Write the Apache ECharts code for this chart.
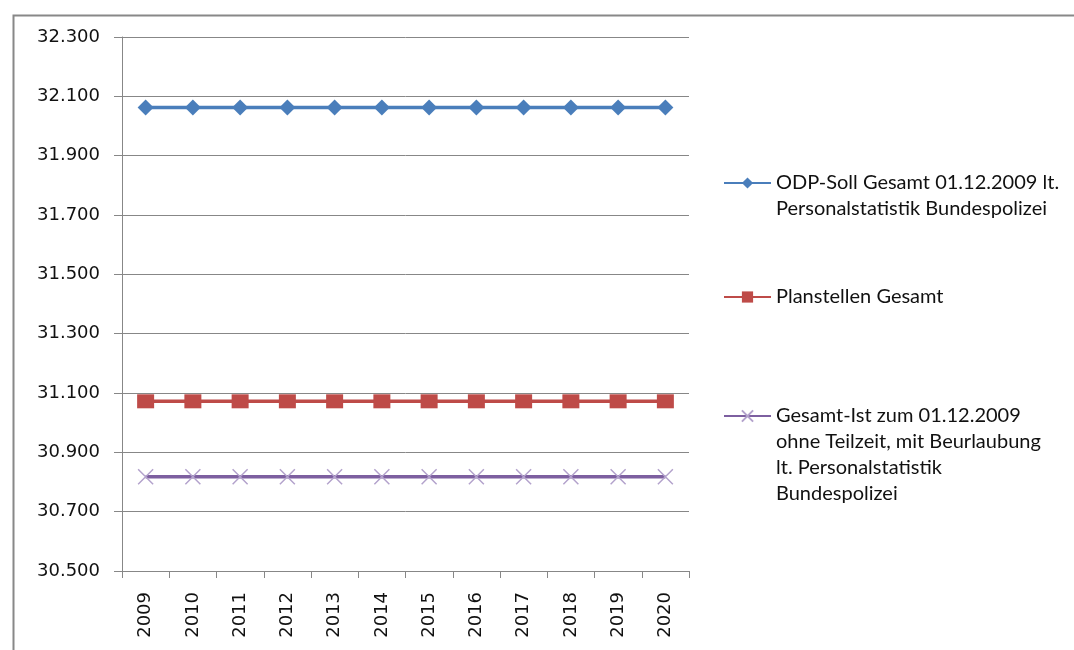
<!DOCTYPE html>
<html>
<head>
<meta charset="utf-8">
<script src="https://cdn.jsdelivr.net/npm/echarts@6/dist/echarts.min.js"></script>
<style>
html,body{margin:0;padding:0;background:#fff;}
#chart{width:1074px;height:650px;}
</style>
</head>
<body>
<div id="chart"></div>
<script>
var years = ['2009','2010','2011','2012','2013','2014','2015','2016','2017','2018','2019','2020'];
var seriesNames = [
  'ODP-Soll Gesamt 01.12.2009 lt.\nPersonalstatistik Bundespolizei',
  'Planstellen Gesamt',
  'Gesamt-Ist zum 01.12.2009\nohne Teilzeit, mit Beurlaubung\nlt. Personalstatistik\nBundespolizei'
];
var odpSoll = [32062,32062,32062,32062,32062,32062,32062,32062,32062,32062,32062,32062];
var planstellen = [31072,31072,31072,31072,31072,31072,31072,31072,31072,31072,31072,31072];
var gesamtIst = [30818,30818,30818,30818,30818,30818,30818,30818,30818,30818,30818,30818];
var yMin = 30500, yMax = 32300, yStep = 200;

function fmt(v){ return String(v).replace(/\B(?=(\d{3})+(?!\d))/g, '.'); }

var LH = 26;
var legendFont = {fontFamily: 'Lato', fontSize: 20, color: '#111', lineHeight: LH};
function legendFor(name, lines, top){
  var pre = '';
  for (var i = 1; i < lines; i++) pre += '\n';
  return {
    left: 723, top: top, orient: 'vertical', itemWidth: 47, itemHeight: 14,
    selectedMode: false, padding: 0,
    textStyle: legendFont,
    formatter: function(n){ return pre + n; },
    data: [name]
  };
}

var chart = echarts.init(document.getElementById('chart'));
chart.setOption({
  animation: false,
  backgroundColor: '#fff',
  graphic: [{
    type: 'rect', left: 11, top: 13, silent: true,
    shape: {width: 1200, height: 800},
    style: {fill: 'none', stroke: '#888', lineWidth: 2}
  }],
  legend: [
    legendFor(seriesNames[0], 2, 144),
    legendFor(seriesNames[1], 1, 284),
    legendFor(seriesNames[2], 4, 325)
  ],
  grid: {left: 122, right: 385, top: 37, bottom: 79},
  xAxis: {
    type: 'category', data: years, boundaryGap: true,
    axisLine: {lineStyle: {color: '#878787', width: 1}},
    axisTick: {show: true, length: 7, interval: 0, lineStyle: {color: '#878787'}},
    axisLabel: {interval: 0, rotate: 90, margin: 21, fontFamily: 'DejaVu Sans', fontSize: 18, color: '#111'}
  },
  yAxis: {
    type: 'value', min: yMin, max: yMax, interval: yStep,
    axisLine: {show: true, lineStyle: {color: '#878787', width: 1}},
    axisTick: {show: true, length: 8, lineStyle: {color: '#878787'}},
    axisLabel: {margin: 22, fontFamily: 'DejaVu Sans', fontSize: 18, color: '#111', formatter: fmt},
    splitLine: {show: true, lineStyle: {color: '#878787', width: 1}}
  },
  series: [
    {
      name: seriesNames[0], type: 'line', data: odpSoll,
      symbol: 'diamond', symbolSize: 16, showAllSymbol: true,
      lineStyle: {color: '#4A7EBB', width: 3.5},
      itemStyle: {color: '#4A7EBB'}
    },
    {
      name: seriesNames[1], type: 'line', data: planstellen,
      symbol: 'rect', symbolSize: [17, 14], showAllSymbol: true,
      lineStyle: {color: '#BE4B48', width: 3.5},
      itemStyle: {color: '#BE4B48'}
    },
    {
      name: seriesNames[2], type: 'line', data: gesamtIst,
      symbol: 'path://M0,0L10,10M10,0L0,10', symbolSize: 15, showAllSymbol: true,
      lineStyle: {color: '#7D5FA0', width: 3.5},
      itemStyle: {color: 'rgba(0,0,0,0)', borderColor: '#B3A2CC', borderWidth: 1.5}
    }
  ]
});
</script>
</body>
</html>
